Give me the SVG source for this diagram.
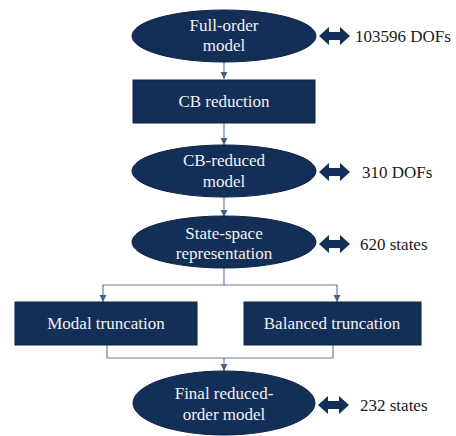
<svg xmlns="http://www.w3.org/2000/svg" width="456" height="436" viewBox="0 0 456 436" font-family="Liberation Serif, DejaVu Serif, Times New Roman, serif">
<defs>
<style>
.node{fill:#132e57;stroke:#0d2244;stroke-width:1}
.t{font-family:'Liberation Serif','DejaVu Serif','Times New Roman',Times,serif;font-size:17px;fill:#f2f2f2;text-anchor:middle}
.lbl{font-family:'Liberation Serif','DejaVu Serif','Times New Roman',Times,serif;font-size:17px;fill:#1a1a1a}
.c{fill:none;stroke:#6b7f9f;stroke-width:1.2}
.da{fill:#132e57}
</style>
<marker id="ah" markerWidth="8" markerHeight="8" refX="7" refY="4" orient="auto" markerUnits="userSpaceOnUse">
<path d="M0,0.5 L7,4 L0,7.5 Z" fill="#4a5f82"/>
</marker>
<path id="dbl" d="M0,0 L10,-9 L10,-4 L21,-4 L21,-9 L31,0 L21,9 L21,4 L10,4 L10,9 Z"/>
</defs>
<g id="connectors">
<path class="c" d="M224,62 V79" marker-end="url(#ah)"/>
<path class="c" d="M224,123 V145" marker-end="url(#ah)"/>
<path class="c" d="M224,197 V217" marker-end="url(#ah)"/>
<path class="c" d="M224,268 V285 H103 V302" marker-end="url(#ah)"/>
<path class="c" d="M224,285 H337 V302" marker-end="url(#ah)"/>
<path class="c" d="M107,345 V358 H333 V345"/>
<path class="c" d="M224,358 V371" marker-end="url(#ah)"/>
</g>
<g id="full-order">
<ellipse class="node" cx="224" cy="36" rx="92" ry="26"/>
<text class="t" x="224" y="31">Full-order</text>
<text class="t" x="224" y="51">model</text>
<use href="#dbl" class="da" x="319" y="36"/>
<text class="lbl" x="355" y="42">103596 DOFs</text>
</g>
<g id="cb-reduction">
<rect class="node" x="133" y="80" width="182" height="43"/>
<text class="t" x="224" y="107">CB reduction</text>
</g>
<g id="cb-reduced">
<ellipse class="node" cx="224" cy="171" rx="92" ry="26"/>
<text class="t" x="224" y="166">CB-reduced</text>
<text class="t" x="224" y="187">model</text>
<use href="#dbl" class="da" x="319" y="172"/>
<text class="lbl" x="362" y="178">310 DOFs</text>
</g>
<g id="state-space">
<ellipse class="node" cx="224" cy="242" rx="92" ry="26"/>
<text class="t" x="224" y="239">State-space</text>
<text class="t" x="224" y="259">representation</text>
<use href="#dbl" class="da" x="319" y="244"/>
<text class="lbl" x="360" y="250">620 states</text>
</g>
<g id="modal">
<rect class="node" x="15" y="302" width="182" height="43"/>
<text class="t" x="106" y="329">Modal truncation</text>
</g>
<g id="balanced">
<rect class="node" x="244" y="302" width="177" height="43"/>
<text class="t" x="332" y="329">Balanced truncation</text>
</g>
<g id="final">
<ellipse class="node" cx="224" cy="403" rx="91" ry="32"/>
<text class="t" x="224" y="399">Final reduced-</text>
<text class="t" x="224" y="420">order model</text>
<use href="#dbl" class="da" x="318" y="405"/>
<text class="lbl" x="360" y="411">232 states</text>
</g>
</svg>
